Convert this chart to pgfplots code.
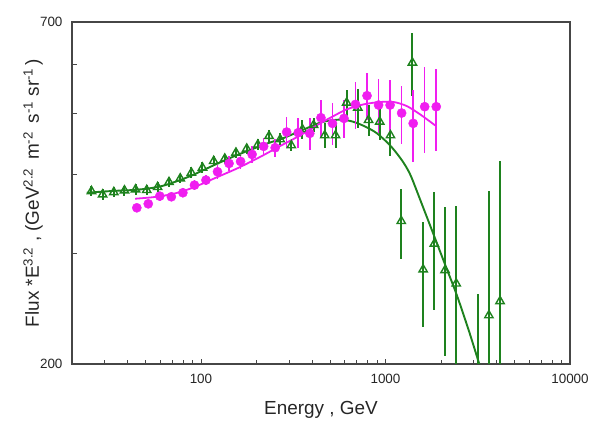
\documentclass[border=0pt]{standalone}
\usepackage{fontspec}
\setmainfont{Liberation Sans}
\usepackage{pgfplots}
\pgfplotsset{compat=1.18}
\usepackage{pgfplotstable}

\definecolor{dgreen}{RGB}{30,130,30}
\definecolor{mag}{RGB}{240,30,240}

% open triangles: energy, flux, error plus, error minus
\pgfplotstableread{
x      y     ep   em
25.5   376.7  7    7
29.3   372.1  7    7
33.7   375.3  7    7
38.5   377.6  7    7
44.2   379.0  7    7
50.8   378.1  7    7
58.2   382.3  7    7
67.1   389.4  7    7
77.2   394.6  7    7
88.7   402.9  8    8
101.9  410.4  8    8
117.2  420.5  8    8
134.6  424.2  8    8
154.7  433.6  8    8
177.0  440.0  8    8
203.4  446.5  9    9
233.8  460.9  10   10
268.7  455.3  10   10
308.8  445.4  9    9
354.8  472.3  17   17
407.7  479.8  12   12
468.7  462.0  21   21
536.1  462.0  21   21
616.1  520.8  25   25
707.9  511.3  37   37
809.6  488.7  27   27
930.6  485.8  31   31
1064.3 462.0  34   34
1217.3 337.5  42   44
1399.0 603.0  70   69
1600.1 282.7  54   54
1839   310.6  65   67
2103   282.0  74   76
2417   268.5  88   100
3178   195.0  63   40
3635   239.0  138  100
4177   251.7  169  100
}\greendata

% filled circles
\pgfplotstableread{
x      y      e
44.9   354.4  5
51.8   359.6  5
59.8   369.9  6
69.1   369.0  6
79.8   374.5  6
92.2   385.1  7
106.4  392.2  7
122.9  404.4  10
141.9  416.9  12
163.9  420.0  12
189.3  430.9  13
218.6  443.8  14
252.4  441.6  15
291.4  467.7  26
336.6  466.6  25
388.7  465.4  27
446.7  492.9  34
515.8  482.8  37
595.7  491.7  34
687.9  517.6  44
794.3  534.3  46
917.2  516.3  51
1059   516.3  49
1223   501.4  53
1413   482.8  63
1631   513.2  80
1884   513.2  77
}\magdata

% fitted curves
\pgfplotstableread{
x      y
24.05  374.5
28.46  375.8
34.47  377.2
41.77  378.1
50.6   380.0
61.3   383.7
74.3   390.8
90.0   399.5
120.0  415.4
160.0  430.9
234.9  449.8
268.7  455.3
344.8  469.4
442.4  484.0
523.3  488.7
592.8  489.3
674.8  485.2
779.2  476.9
900.0  465.4
1059   445.4
1200   425.7
1302   410.4
1386   395.6
1570   360.0
1822   321.4
2103   287.9
2429   257.9
2818   226.8
3224   200.0
3448   188.8
}\greencurve

\pgfplotstableread{
x      y
44.0   366.4
55.7   368.6
70.8   373.0
90.0   381.3
120.0  395.6
160.0  410.4
213.4  428.3
268.7  444.4
344.8  462.0
442.4  482.8
523.3  496.0
616.1  508.2
760.8  517.6
935.1  522.1
1106   522.1
1302   514.5
1540   499.0
1857   479.3
}\magcurve

\begin{document}
\begin{tikzpicture}
\path[use as bounding box] (-72bp,-64bp) rectangle (528bp,364bp);
\begin{axis}[
    at={(0,0)}, anchor=south west,
    scale only axis, width=498bp, height=342bp,
    xmode=log, ymode=log,
    xmin=20, xmax=10000, ymin=200, ymax=700,
    xtick={100,1000,10000}, xticklabels={100,1000,10000},
    minor xtick={20,30,40,50,60,70,80,90,200,300,400,500,600,700,800,900,2000,3000,4000,5000,6000,7000,8000,9000},
    ytick={200,300,400,500,600,700}, yticklabels={200,,,,,700},
    tick align=inside, xtick pos=left, ytick pos=left,
    major tick length=5bp, minor tick length=3.5bp,
    axis line style={draw=gray!55!black, line width=1.1bp},
    every tick/.style={draw=gray!55!black, line width=0.9bp},
    tick label style={font=\fontsize{13.5}{15}\selectfont, text=black!85},
    xticklabel style={yshift=-7bp},
    yticklabel style={xshift=-6bp},
    xlabel={Energy , GeV},
    ylabel={Flux *E\textsuperscript{3.2} , (GeV\textsuperscript{2.2}\, m\textsuperscript{-2}\, s\textsuperscript{-1} sr\textsuperscript{-1}\,)},
    xlabel style={at={(axis description cs:0.5,0)}, anchor=center, yshift=-46bp,
        font=\fontsize{19}{22}\selectfont, text=black!85},
    ylabel style={at={(axis description cs:0,0.5)}, anchor=center, yshift=39bp,
        font=\fontsize{19}{22}\selectfont, text=black!85},
]

\addplot[dgreen, only marks, mark=triangle, mark size=4.8bp,
    mark options={line width=1.4bp, fill=white},
    error bars/.cd, y dir=both, y explicit, error mark=none,
    error bar style={line width=2bp, dgreen}]
  table[x=x, y=y, y error plus=ep, y error minus=em] {\greendata};

\addplot[dgreen, line width=1.9bp, smooth, no marks] table[x=x, y=y] {\greencurve};

\addplot[mag, only marks, mark=*, mark size=4.6bp,
    error bars/.cd, y dir=both, y explicit, error mark=none,
    error bar style={line width=1.6bp, mag}]
  table[x=x, y=y, y error=e] {\magdata};

\addplot[mag, line width=1.8bp, smooth, no marks] table[x=x, y=y] {\magcurve};

\end{axis}
\end{tikzpicture}
\end{document}
